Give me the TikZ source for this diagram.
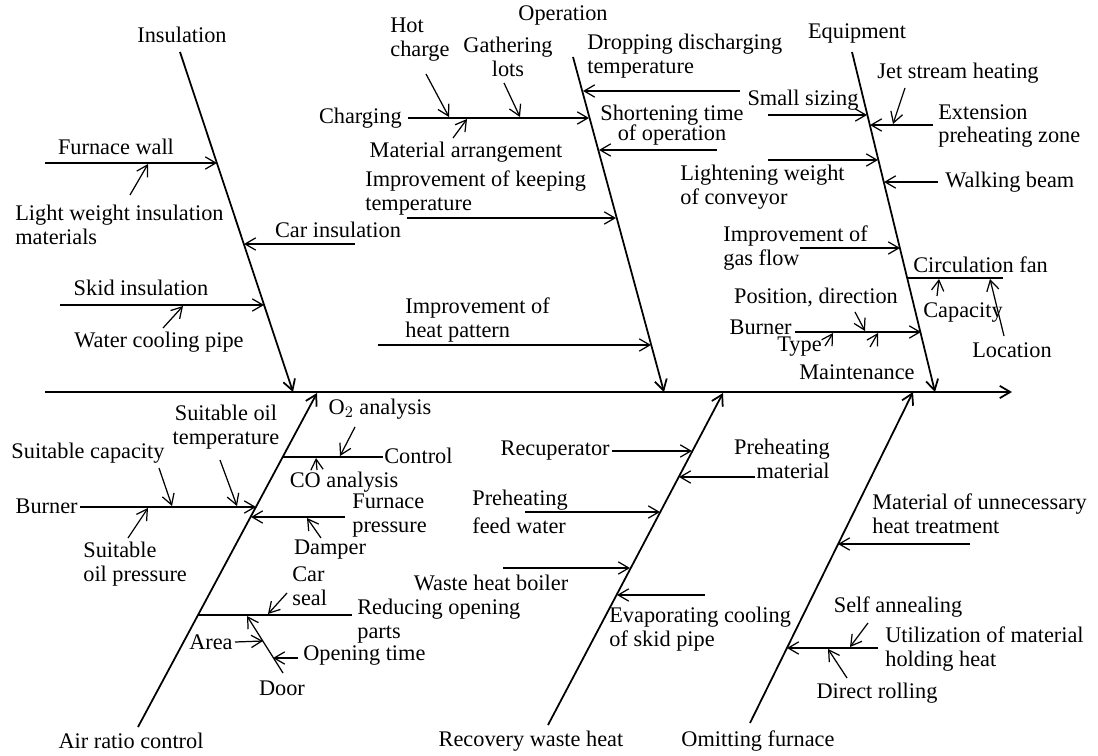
\documentclass[tikz,border=0pt]{standalone}
\usepackage{fontspec}
\setmainfont{Liberation Serif}
\usetikzlibrary{arrows.meta}

\begin{document}
\begin{tikzpicture}[x=0.02cm, y=-0.02cm,
    >={Straight Barb[length=6pt,width=7pt]},
    bone/.style={line width=1pt},
    twig/.style={line width=0.7pt},
    every node/.style={font=\fontsize{12.7}{13.6}\selectfont, inner sep=0pt, align=left}]
  \useasboundingbox (0,0) rectangle (1098,756);

  % spine
  \coordinate (s0) at (45,392);
  \coordinate (s1) at (1012,392);
  \draw[bone,->] (s0) -- (s1);

  % main bones
  \coordinate (insT) at (180,52);   \coordinate (insH) at (293,392);
  \coordinate (opT) at (573,57);    \coordinate (opH) at (664,392);
  \coordinate (eqT) at (852,52);    \coordinate (eqH) at (935,392);
  \coordinate (arT) at (138,727);   \coordinate (arH) at (317,393);
  \coordinate (rwT) at (548,725);   \coordinate (rwH) at (723,393);
  \coordinate (omT) at (750,723);   \coordinate (omH) at (913,392);
  \draw[bone,->] (insT) -- (insH);
  \draw[bone,->] (opT) -- (opH);
  \draw[bone,->] (eqT) -- (eqH);
  \draw[bone,->] (arT) -- (arH);
  \draw[bone,->] (rwT) -- (rwH);
  \draw[bone,->] (omT) -- (omH);
  \node (ins) at (182,35) {Insulation};
  \node (op) at (563,15) {Operation};
  \node (eq) at (857,33) {Equipment};
  \node (ar) at (131,741) {Air ratio control};
  \node (rw) at (531,741) {Recovery waste heat};
  \node (om) at (758,741) {Omitting furnace};

  % insulation
  \coordinate (fwA) at (45,163);   \coordinate (fwB) at (217,163);
  \coordinate (lwA) at (130,195);  \coordinate (lwB) at (148,164);
  \coordinate (ciA) at (355,244);  \coordinate (ciB) at (244,244);
  \coordinate (siA) at (60,305);   \coordinate (siB) at (264,305);
  \coordinate (wcA) at (163,328);  \coordinate (wcB) at (183,306);
  \draw[twig,->] (fwA) -- (fwB);
  \draw[twig,->] (lwA) -- (lwB);
  \draw[twig,->] (ciA) -- (ciB);
  \draw[twig,->] (siA) -- (siB);
  \draw[twig,->] (wcA) -- (wcB);
  \node (fw) at (116,147) {Furnace wall};
  \node[anchor=west] (lw) at (15,225) {Light weight insulation\\materials};
  \node (ci) at (338,230) {Car insulation};
  \node (si) at (141,288) {Skid insulation};
  \node (wc) at (159,342) {Water cooling pipe};

  % operation
  \coordinate (chA) at (408,118);  \coordinate (chB) at (589,118);
  \coordinate (hcA) at (426,74);   \coordinate (hcB) at (449,117);
  \coordinate (glA) at (504,83);   \coordinate (glB) at (520,117);
  \coordinate (maA) at (453,138);  \coordinate (maB) at (467,119);
  \coordinate (ddA) at (740,91);   \coordinate (ddB) at (583,91);
  \coordinate (stA) at (717,150);  \coordinate (stB) at (599,150);
  \coordinate (ktA) at (407,218);  \coordinate (ktB) at (616,218);
  \coordinate (hpA) at (378,345);  \coordinate (hpB) at (651,345);
  \draw[twig,->] (chA) -- (chB);
  \draw[twig,->] (hcA) -- (hcB);
  \draw[twig,->] (glA) -- (glB);
  \draw[twig,->] (maA) -- (maB);
  \draw[twig,->] (ddA) -- (ddB);
  \draw[twig,->] (stA) -- (stB);
  \draw[twig,->] (ktA) -- (ktB);
  \draw[twig,->] (hpA) -- (hpB);
  \node[anchor=east] (ch) at (402,118) {Charging};
  \node[anchor=west] (hc) at (390,40) {Hot\\charge};
  \node[align=center] (gl) at (508,57) {Gathering\\lots};
  \node (ma) at (466,152) {Material arrangement};
  \node[anchor=west] (dd) at (587,56) {Dropping discharging\\temperature};
  \node[align=center] (st) at (672,125) {Shortening time\\[-2.3pt]of operation};
  \node[anchor=west] (kt) at (365,193) {Improvement of keeping\\temperature};
  \node[anchor=west] (hp) at (405,320) {Improvement of\\heat pattern};

  % equipment
  \coordinate (ssA) at (768,115);  \coordinate (ssB) at (867,115);
  \coordinate (epA) at (933,125);  \coordinate (epB) at (870,125);
  \coordinate (jsA) at (905,88);   \coordinate (jsB) at (893,124);
  \coordinate (lcA) at (768,160);  \coordinate (lcB) at (878,160);
  \coordinate (wbA) at (938,182);  \coordinate (wbB) at (884,182);
  \coordinate (gfA) at (800,248);  \coordinate (gfB) at (900,248);
  \coordinate (cfA) at (908,278);  \coordinate (cfB) at (1003,278);
  \coordinate (cpA) at (937,296);  \coordinate (cpB) at (939,279);
  \coordinate (lnA) at (1004,336); \coordinate (lnB) at (990,279);
  \coordinate (buA) at (795,332);  \coordinate (buB) at (921,332);
  \coordinate (pdA) at (855,312);  \coordinate (pdB) at (865,331);
  \coordinate (tyA) at (825,346);  \coordinate (tyB) at (833,333);
  \coordinate (unA) at (870,347);  \coordinate (unB) at (878,333);
  \draw[twig,->] (ssA) -- (ssB);
  \draw[twig,->] (epA) -- (epB);
  \draw[twig,->] (jsA) -- (jsB);
  \draw[twig,->] (lcA) -- (lcB);
  \draw[twig,->] (wbA) -- (wbB);
  \draw[twig,->] (gfA) -- (gfB);
  \draw[twig] (cfA) -- (cfB);
  \draw[twig,->] (cpA) -- (cpB);
  \draw[twig,->] (lnA) -- (lnB);
  \draw[twig,->] (buA) -- (buB);
  \draw[twig,->] (pdA) -- (pdB);
  \draw[twig,->] (tyA) -- (tyB);
  \draw[twig,->] (unA) -- (unB);
  \node (ss) at (803,100) {Small sizing};
  \node[anchor=west] (ep) at (938,126) {Extension\\preheating zone};
  \node (js) at (958,73) {Jet stream heating};
  \node[anchor=west] (lc) at (680,187) {Lightening weight\\of conveyor};
  \node[anchor=west] (wb) at (945,182) {Walking beam};
  \node[anchor=west] (gf) at (723,248) {Improvement of\\gas flow};
  \node[anchor=west] (cf) at (913,265) {Circulation fan};
  \node (cp) at (963,313) {Capacity};
  \node (ln) at (1012,350) {Location};
  \node[anchor=east] (bu) at (792,327) {Burner};
  \node (pd) at (816,297) {Position, direction};
  \node[anchor=east] (ty) at (822,347) {Type};
  \node (mt) at (857,372) {Maintenance};

  % air ratio control
  \coordinate (bnA) at (80,507);   \coordinate (bnB) at (256,507);
  \coordinate (scA) at (159,468);  \coordinate (scB) at (172,506);
  \coordinate (soA) at (220,460);  \coordinate (soB) at (237,506);
  \coordinate (spA) at (128,538);  \coordinate (spB) at (148,508);
  \coordinate (ctA) at (283,457);  \coordinate (ctB) at (383,457);
  \coordinate (o2A) at (355,427);  \coordinate (o2B) at (340,456);
  \coordinate (coA) at (317,470);  \coordinate (coB) at (316,458);
  \coordinate (fpA) at (345,517);  \coordinate (fpB) at (251,517);
  \coordinate (dmA) at (321,538);  \coordinate (dmB) at (307,518);
  \coordinate (roA) at (198,615);  \coordinate (roB) at (352,615);
  \coordinate (csA) at (287,593);  \coordinate (csB) at (268,614);
  \coordinate (drA) at (283,673);  \coordinate (drB) at (247,616);
  \coordinate (aaA) at (235,642);  \coordinate (aaB) at (263,641);
  \coordinate (otA) at (298,658);  \coordinate (otB) at (273,658);
  \draw[twig,->] (bnA) -- (bnB);
  \draw[twig,->] (scA) -- (scB);
  \draw[twig,->] (soA) -- (soB);
  \draw[twig,->] (spA) -- (spB);
  \draw[twig] (ctA) -- (ctB);
  \draw[twig,->] (o2A) -- (o2B);
  \draw[twig,->] (coA) -- (coB);
  \draw[twig,->] (fpA) -- (fpB);
  \draw[twig,->] (dmA) -- (dmB);
  \draw[twig] (roA) -- (roB);
  \draw[twig,->] (csA) -- (csB);
  \draw[twig,->] (drA) -- (drB);
  \draw[twig,->] (aaA) -- (aaB);
  \draw[twig,->] (otA) -- (otB);
  \node[anchor=east] (bn) at (78,506) {Burner};
  \node (sc) at (88,453) {Suitable capacity};
  \node[align=center] (so) at (226,427) {Suitable oil\\temperature};
  \node[anchor=west] (sp) at (83,564) {Suitable\\oil pressure};
  \node[anchor=west] (ct) at (384,456) {Control};
  \node (o2) at (380,409) {O$_2$ analysis};
  \node (co) at (344,482) {CO analysis};
  \node[anchor=west] (fp) at (352,516) {Furnace\\pressure};
  \node (dm) at (330,550) {Damper};
  \node[anchor=west] (ro) at (357,621) {Reducing opening\\parts};
  \node[anchor=west] (cs) at (292,586) {Car\\seal};
  \node (dr) at (282,688) {Door};
  \node[anchor=east] (aa) at (233,642) {Area};
  \node[anchor=west] (ot) at (303,656) {Opening time};

  % recovery waste heat
  \coordinate (rcA) at (612,451);  \coordinate (rcB) at (692,451);
  \coordinate (pmA) at (755,477);  \coordinate (pmB) at (679,477);
  \coordinate (pfA) at (525,512);  \coordinate (pfB) at (660,512);
  \coordinate (whA) at (503,568);  \coordinate (whB) at (630,568);
  \coordinate (evA) at (705,595);  \coordinate (evB) at (617,595);
  \draw[twig,->] (rcA) -- (rcB);
  \draw[twig,->] (pmA) -- (pmB);
  \draw[twig,->] (pfA) -- (pfB);
  \draw[twig,->] (whA) -- (whB);
  \draw[twig,->] (evA) -- (evB);
  \node[anchor=east] (rc) at (610,451) {Recuperator};
  \node[anchor=east, align=right] (pm) at (830,459) {Preheating\\material};
  \node[anchor=west] (pf) at (472,512) {Preheating\\[2.3pt]feed water};
  \node (wh) at (491,583) {Waste heat boiler};
  \node[anchor=west] (ev) at (609,629) {Evaporating cooling\\of skid pipe};

  % omitting furnace
  \coordinate (muA) at (970,544);  \coordinate (muB) at (838,544);
  \coordinate (utA) at (878,648);  \coordinate (utB) at (787,648);
  \coordinate (saA) at (868,623);  \coordinate (saB) at (850,647);
  \coordinate (rlA) at (847,678);  \coordinate (rlB) at (828,649);
  \draw[twig,->] (muA) -- (muB);
  \draw[twig,->] (utA) -- (utB);
  \draw[twig,->] (saA) -- (saB);
  \draw[twig,->] (rlA) -- (rlB);
  \node[anchor=west] (mu) at (872,514) {Material of unnecessary\\heat treatment};
  \node[anchor=west] (ut) at (885,649) {Utilization of material\\holding heat};
  \node (sa) at (898,607) {Self annealing};
  \node (rl) at (877,693) {Direct rolling};
\end{tikzpicture}
\end{document}
